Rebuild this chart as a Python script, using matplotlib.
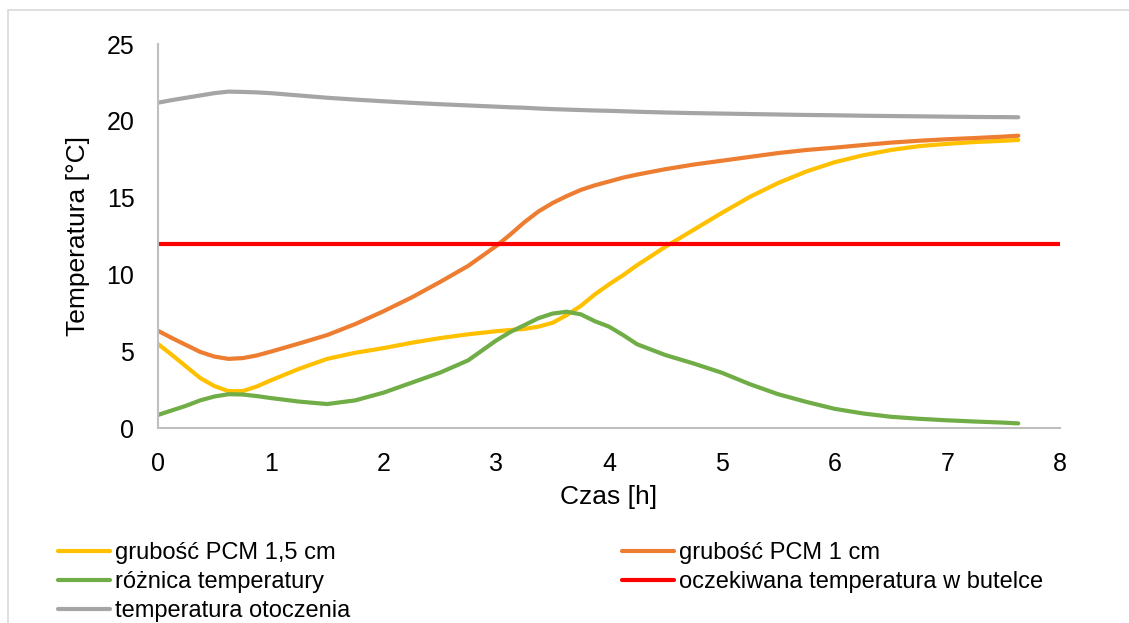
import matplotlib
matplotlib.use("Agg")
import matplotlib.pyplot as plt
from matplotlib.patches import Rectangle

# --- data ---
czas = [0, 0.125, 0.25, 0.375, 0.5, 0.625, 0.75, 0.875, 1,
        1.25, 1.5, 1.75, 2, 2.25, 2.5, 2.75,
        3, 3.125, 3.25, 3.375, 3.5, 3.625, 3.75, 3.875, 4, 4.125, 4.25,
        4.5, 4.75, 5, 5.25, 5.5, 5.75, 6, 6.25, 6.5, 6.75, 7, 7.25, 7.5, 7.63]

pcm_15 = [5.47, 4.75, 4.0, 3.25, 2.73, 2.4, 2.4, 2.7, 3.1,
          3.85, 4.5, 4.9, 5.2, 5.55, 5.85, 6.1,
          6.3, 6.38, 6.45, 6.6, 6.85, 7.35, 7.95, 8.7, 9.35, 9.95, 10.6,
          11.8, 12.9, 14.0, 15.05, 15.95, 16.7, 17.3, 17.75, 18.1, 18.35,
          18.5, 18.62, 18.7, 18.75]

pcm_1 = [6.33, 5.85, 5.4, 4.95, 4.65, 4.5, 4.55, 4.72, 4.97,
         5.5, 6.05, 6.77, 7.6, 8.5, 9.5, 10.55,
         11.85, 12.6, 13.4, 14.1, 14.65, 15.1, 15.5, 15.8, 16.05, 16.3, 16.5,
         16.85, 17.15, 17.4, 17.65, 17.9, 18.1, 18.25, 18.42, 18.58, 18.7,
         18.8, 18.88, 18.97, 19.03]

roznica = [0.85, 1.15, 1.45, 1.8, 2.05, 2.2, 2.18, 2.08, 1.95,
           1.72, 1.56, 1.8, 2.3, 2.95, 3.6, 4.4,
           5.7, 6.25, 6.7, 7.15, 7.45, 7.57, 7.4, 6.95, 6.6, 6.05, 5.45,
           4.75, 4.2, 3.6, 2.85, 2.2, 1.7, 1.25, 0.95, 0.73, 0.6,
           0.5, 0.42, 0.35, 0.3]

otoczenie = [21.18, 21.35, 21.5, 21.65, 21.8, 21.9, 21.88, 21.85, 21.8,
             21.65, 21.5, 21.38, 21.27, 21.17, 21.08, 21.0,
             20.92, 20.88, 20.85, 20.8, 20.76, 20.73, 20.7, 20.67, 20.65, 20.62,
             20.59, 20.54, 20.5, 20.47, 20.44, 20.41, 20.38, 20.36, 20.33, 20.31,
             20.29, 20.27, 20.25, 20.24, 20.23]

oczekiwana_x = [0, 8]
oczekiwana_y = [12, 12]

plt.rcParams['font.family'] = ['Liberation Sans', 'DejaVu Sans']

fig = plt.figure(figsize=(11.29, 6.23), dpi=100)
# outer chart border (cropped on right and bottom)
fig.patches.append(Rectangle((8 / 1129, -0.1), 1.2, 1 - 10 / 623 + 0.1,
                             transform=fig.transFigure, fill=False,
                             edgecolor="#d9d9d9", linewidth=1.2))

ax = fig.add_axes([158 / 1129, (623 - 428) / 623, 902 / 1129, 384 / 623])

lw = 3
l1, = ax.plot(czas, pcm_15, color="#ffc000", lw=lw, label="grubość PCM 1,5 cm",
              solid_capstyle="round", solid_joinstyle="round")
l2, = ax.plot(czas, pcm_1, color="#ed7d31", lw=lw, label="grubość PCM 1 cm",
              solid_capstyle="round", solid_joinstyle="round")
l3, = ax.plot(czas, roznica, color="#70ad47", lw=lw, label="różnica temperatury",
              solid_capstyle="round", solid_joinstyle="round")
l4, = ax.plot(oczekiwana_x, oczekiwana_y, color="#ff0000", lw=lw,
              label="oczekiwana temperatura w butelce", solid_capstyle="round")
l5, = ax.plot(czas, otoczenie, color="#a5a5a5", lw=lw, label="temperatura otoczenia",
              solid_capstyle="round", solid_joinstyle="round")

ax.set_xlim(0, 8)
ax.set_ylim(0, 25)
ax.set_xticks(range(0, 9))
ax.set_yticks(range(0, 26, 5))
ax.tick_params(length=0, labelsize=18, pad=17)
for s in ["top", "right"]:
    ax.spines[s].set_visible(False)
for s in ["left", "bottom"]:
    ax.spines[s].set_color("#bfbfbf")
    ax.spines[s].set_linewidth(1.5)

ax.set_xlabel("Czas [h]", fontsize=19, labelpad=7)
ax.set_ylabel("Temperatura [°C]", fontsize=19, labelpad=12)

leg_kw = dict(frameon=False, fontsize=17, handlelength=2.2, handletextpad=0.2,
              labelspacing=0.3, borderaxespad=0, borderpad=0)
fig.legend(handles=[l1, l3, l5], loc="upper left",
           bbox_to_anchor=(58 / 1129, 1 - 542 / 623), **leg_kw)
fig.legend(handles=[l2, l4], loc="upper left",
           bbox_to_anchor=(622 / 1129, 1 - 542 / 623), **leg_kw)

fig.savefig("out.png", dpi=100)
